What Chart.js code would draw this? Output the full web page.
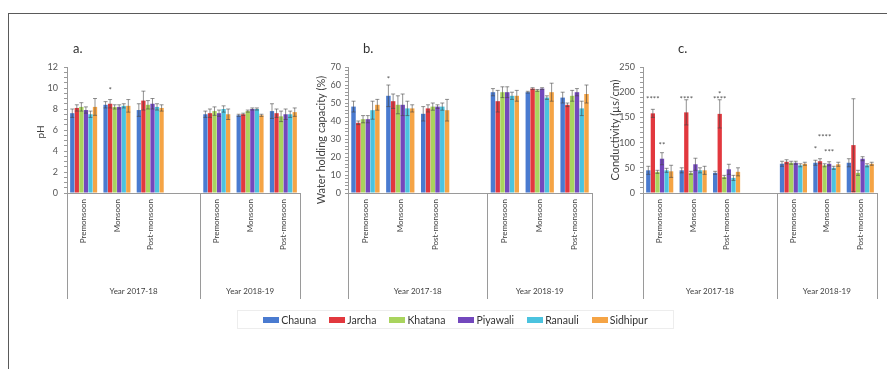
<!DOCTYPE html>
<html>
<head>
<meta charset="utf-8">
<script src="https://cdn.jsdelivr.net/npm/chart.js@4.4.1/dist/chart.umd.min.js"></script>
<style>
  html, body { margin: 0; padding: 0; background: #fff; }
  #page { position: relative; width: 887px; height: 369px; overflow: hidden; font-family: Lato, "Liberation Sans", sans-serif; }
  #frame { position: absolute; left: 8px; top: 13px; width: 900px; height: 400px; border-left: 1.5px solid #5a5a5a; border-top: 1.5px solid #5a5a5a; }
  .panel { position: absolute; top: 0; height: 369px; }
  #legend { position: absolute; left: 237px; top: 310px; width: 435px; height: 17px; border: 1px solid #ededed;
            display: flex; align-items: center; justify-content: center; gap: 13px; font-size: 10.5px; color: #333; }
  .item { display: flex; align-items: center; gap: 2px; }
  .sw { width: 16px; height: 6px; display: inline-block; }
</style>
</head>
<body>
<div id="page">
  <div id="frame"></div>
  <div class="panel" style="left:0;width:305px"><canvas id="cA" width="305" height="369"></canvas></div>
  <div class="panel" style="left:300px;width:297px"><canvas id="cB" width="297" height="369"></canvas></div>
  <div class="panel" style="left:590px;width:297px"><canvas id="cC" width="297" height="369"></canvas></div>
  <div id="legend"></div>
</div>
<script>
// Sampling sites and seasons (index 3 is the blank slot separating the two years)
const sites = ['Chauna', 'Jarcha', 'Khatana', 'Piyawali', 'Ranauli', 'Sidhipur'];
const siteColors = ['#4a7bd0', '#e2383e', '#a9d45e', '#7348bd', '#4bc3df', '#f5a445'];
const seasons = ['Premonsoon', 'Monsoon', 'Post-monsoon', '', 'Premonsoon', 'Monsoon', 'Post-monsoon'];
const years = ['Year 2017-18', 'Year 2018-19'];
const yearSpans = [4, 3];

// a. pH (rows follow the site order)
const phMeans = [
  [7.6, 8.4, 7.9, null, 7.5, 7.4, 7.8],
  [8.1, 8.5, 8.8, null, 7.6, 7.5, 7.6],
  [8.2, 8.2, 8.4, null, 7.8, 7.8, 7.3],
  [7.9, 8.2, 8.5, null, 7.6, 8.0, 7.5],
  [7.5, 8.3, 8.2, null, 8.0, 8.0, 7.5],
  [8.2, 8.3, 8.1, null, 7.5, 7.4, 7.7]
];
const phErrors = [
  [0.4, 0.3, 0.6, null, 0.3, 0.1, 0.7],
  [0.3, 0.4, 0.9, null, 0.4, 0.1, 0.4],
  [0.4, 0.2, 0.4, null, 0.4, 0.1, 0.5],
  [0.3, 0.2, 0.5, null, 0.3, 0.1, 0.5],
  [0.3, 0.2, 0.3, null, 0.3, 0.1, 0.3],
  [0.8, 0.6, 0.3, null, 0.5, 0.1, 0.4]
];
const phMarkText = ['*'];
const phMarkSite = [1];
const phMarkSeason = [1];
const phMarkValue = [10];

// b. Water holding capacity (%)
const whcMeans = [
  [48, 54, 44, null, 56, 56, 53],
  [39, 51, 47, null, 51, 58, 49],
  [41, 49, 48, null, 56, 57, 54],
  [41, 49, 48, null, 56, 58, 56],
  [46, 47, 48, null, 54, 53, 47],
  [49, 47, 46, null, 54, 56, 55]
];
const whcErrors = [
  [3, 6, 4, null, 2, 0.5, 3],
  [1, 4, 2, null, 6, 0.5, 1],
  [2, 5, 2, null, 3, 0.5, 3],
  [2, 6, 1, null, 3, 0.5, 2],
  [5, 4, 2, null, 2, 1, 4],
  [3, 2, 6, null, 3, 5, 5]
];
const whcMarkText = ['*'];
const whcMarkSite = [0];
const whcMarkSeason = [1];
const whcMarkValue = [64];

// c. Conductivity (µs/cm)
const ecMeans = [
  [45, 45, 40, null, 58, 60, 60],
  [158, 160, 157, null, 62, 63, 95],
  [42, 40, 32, null, 60, 55, 40],
  [68, 57, 47, null, 60, 58, 68],
  [45, 45, 30, null, 55, 50, 55],
  [43, 45, 42, null, 58, 57, 58]
];
const ecErrors = [
  [8, 5, 3, null, 5, 5, 8],
  [8, 25, 28, null, 4, 5, 92],
  [3, 3, 3, null, 3, 3, 5],
  [12, 12, 10, null, 3, 4, 4],
  [4, 5, 5, null, 3, 3, 3],
  [12, 8, 8, null, 3, 4, 3]
];
const ecMarkText = ['****', '**', '****', '****', '*', '****', '*', '***'];
const ecMarkSite = [1, 3, 1, 1, 1, 2, 0, 3];
const ecMarkSeason = [0, 0, 1, 2, 2, 5, 5, 5];
const ecMarkValue = [190, 98, 190, 190, 199, 115, 90, 85];

const TEXT = '#404040';
const AXIS = '#9a9a9a';
const FONT = 'Lato, "Liberation Sans", sans-serif';

// error bars, category/year labels, separators, axis title, panel letter, significance marks
const decor = {
  id: 'decor',
  afterDatasetsDraw(chart, args, o) {
    const ctx = chart.ctx, ys = chart.scales.y;
    ctx.save();
    ctx.strokeStyle = 'rgba(70,70,70,0.75)';
    ctx.lineWidth = 0.8;
    chart.data.datasets.forEach((ds, di) => {
      chart.getDatasetMeta(di).data.forEach((bar, i) => {
        const v = ds.data[i], e = ds.errors[i];
        if (v == null || !e) return;
        const x = bar.x;
        const yt = ys.getPixelForValue(v + e);
        const yb = ys.getPixelForValue(Math.max(v - e, 0));
        ctx.beginPath();
        ctx.moveTo(x, yb); ctx.lineTo(x, yt);
        ctx.moveTo(x - 2, yt); ctx.lineTo(x + 2, yt);
        ctx.moveTo(x - 2, yb); ctx.lineTo(x + 2, yb);
        ctx.stroke();
      });
    });
    ctx.restore();
  },
  afterDraw(chart, args, o) {
    const ctx = chart.ctx, xs = chart.scales.x, ys = chart.scales.y, area = chart.chartArea;
    ctx.save();
    // season labels, rotated
    ctx.fillStyle = TEXT;
    ctx.font = '8px ' + FONT;
    ctx.textAlign = 'right';
    ctx.textBaseline = 'middle';
    seasons.forEach((s, i) => {
      if (!s) return;
      ctx.save();
      ctx.translate(xs.getPixelForValue(i), area.bottom + 6);
      ctx.rotate(-Math.PI / 2);
      ctx.fillText(s, 0, 0);
      ctx.restore();
    });
    // year separators and labels
    ctx.strokeStyle = AXIS;
    ctx.lineWidth = 1;
    let start = 0;
    const edges = [-0.5];
    yearSpans.forEach(n => { start += n; edges.push(start - 0.5); });
    edges.forEach(e => {
      const x = Math.round(xs.getPixelForValue(e)) + 0.5;
      ctx.beginPath(); ctx.moveTo(x, area.bottom); ctx.lineTo(x, 299); ctx.stroke();
    });
    ctx.textAlign = 'center';
    years.forEach((y, k) => {
      const xm = (xs.getPixelForValue(edges[k]) + xs.getPixelForValue(edges[k + 1])) / 2;
      ctx.fillText(y, xm, 291);
    });
    // axis title
    ctx.font = o.titleSize + 'px ' + FONT;
    ctx.save();
    ctx.translate(o.titleX, o.titleY);
    ctx.rotate(-Math.PI / 2);
    ctx.fillText(o.title, 0, 0);
    ctx.restore();
    // panel letter
    ctx.font = '13px ' + FONT;
    ctx.fillStyle = '#333';
    ctx.textAlign = 'left';
    ctx.fillText(o.letter, o.letterX, 49);
    // significance marks
    ctx.font = '8px ' + FONT;
    ctx.fillStyle = '#555';
    ctx.textAlign = 'center';
    o.markText.forEach((t, k) => {
      const bar = chart.getDatasetMeta(o.markSite[k]).data[o.markSeason[k]];
      ctx.fillText(t, bar.x, ys.getPixelForValue(o.markValue[k]) + 2);
    });
    ctx.restore();
  }
};

function buildPanel(id, means, errors, cfg) {
  const ticks = [];
  for (let v = 0; v <= cfg.max + 1e-9; v += cfg.minor) ticks.push(+v.toFixed(4));
  return new Chart(document.getElementById(id), {
    type: 'bar',
    data: {
      labels: seasons,
      datasets: sites.map((s, i) => ({
        label: s,
        data: means[i],
        errors: errors[i],
        backgroundColor: siteColors[i],
        borderWidth: 0,
        categoryPercentage: 0.82,
        barPercentage: 0.94
      }))
    },
    options: {
      responsive: false,
      animation: false,
      events: [],
      layout: { padding: { left: 0, right: cfg.padRight, top: 67, bottom: 0 } },
      plugins: {
        legend: { display: false },
        tooltip: { enabled: false },
        decor: cfg.decor
      },
      scales: {
        x: {
          grid: { display: true, drawOnChartArea: false, drawTicks: false },
          border: { display: true, color: AXIS, width: 1 },
          ticks: { display: false },
          afterFit(s) { s.height = 369 - 193; }
        },
        y: {
          min: 0, max: cfg.max,
          afterFit(s) { s.width = cfg.axisW; },
          afterBuildTicks(s) { s.ticks = ticks.map(v => ({ value: v })); },
          grid: { drawOnChartArea: false, drawTicks: true, tickLength: 3, tickColor: AXIS },
          border: { display: true, color: AXIS, width: 1 },
          ticks: {
            autoSkip: false,
            padding: cfg.labelPad,
            color: '#555',
            font: { family: FONT, size: 9 },
            callback: v => (Math.abs(v / cfg.major - Math.round(v / cfg.major)) < 1e-6 ? String(v) : '')
          }
        }
      }
    },
    plugins: [decor]
  });
}

buildPanel('cA', phMeans, phErrors, {
  max: 12, major: 2, minor: 0.5, axisW: 67, padRight: 5, labelPad: 6,
  decor: { title: 'pH', titleX: 41, titleY: 132, titleSize: 10, letter: 'a.', letterX: 73,
           markText: phMarkText, markSite: phMarkSite, markSeason: phMarkSeason, markValue: phMarkValue }
});
buildPanel('cB', whcMeans, whcErrors, {
  max: 70, major: 10, minor: 2, axisW: 48, padRight: 5, labelPad: 4,
  decor: { title: 'Water holding capacity (%)', titleX: 21, titleY: 140, titleSize: 11, letter: 'b.', letterX: 63,
           markText: whcMarkText, markSite: whcMarkSite, markSeason: whcMarkSeason, markValue: whcMarkValue }
});
buildPanel('cC', ecMeans, ecErrors, {
  max: 250, major: 50, minor: 10, axisW: 53, padRight: 10, labelPad: 5,
  decor: { title: 'Conductivity (µs/cm)', titleX: 25, titleY: 130, titleSize: 11, letter: 'c.', letterX: 88,
           markText: ecMarkText, markSite: ecMarkSite, markSeason: ecMarkSeason, markValue: ecMarkValue }
});

// shared legend
const legend = document.getElementById('legend');
sites.forEach((s, i) => {
  const it = document.createElement('span');
  it.className = 'item';
  it.innerHTML = '<span class="sw" style="background:' + siteColors[i] + '"></span>' + s;
  legend.appendChild(it);
});
</script>
</body>
</html>
